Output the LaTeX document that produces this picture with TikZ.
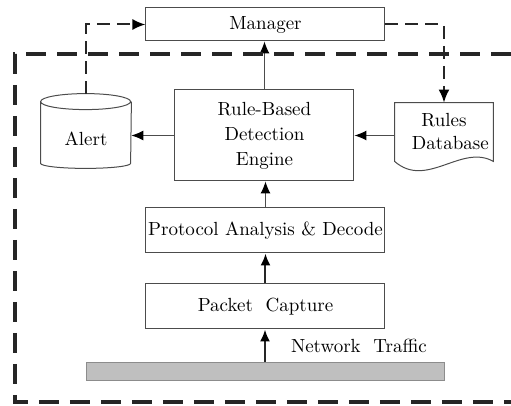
\documentclass[tikz,border=0pt]{standalone}
\usepackage{tikz}
\usetikzlibrary{arrows.meta, positioning}

\begin{document}
\begin{tikzpicture}[x=0.5pt, y=-0.5pt,
    font=\fontsize{9.5}{12.5}\selectfont,
    block/.style={draw=black!70, line width=0.5pt, align=center, inner sep=0pt},
    thinarrow/.style={draw=black!70, line width=0.5pt, -{Latex[length=6pt, width=5pt, black]}},
    thickarrow/.style={draw=black!85, line width=1pt, -{Latex[length=6pt, width=5pt, black]}},
    dashline/.style={draw=black!85, line width=1pt, dash pattern=on 6.5pt off 3.5pt, -{Latex[length=6.5pt, width=5.5pt, black]}},
    frameline/.style={draw=black!85, line width=1.6pt, dash pattern=on 10pt off 5.5pt}]
    \useasboundingbox (0,0) rectangle (511,406);

    % Boxes
    \node[block, minimum width=119.5pt, minimum height=16.5pt] (manager) at (265.5,24.5) {Manager};
    \node[block, minimum width=89.5pt, minimum height=45.5pt] (engine) at (264.5,135.5) {Rule-Based\\Detection\\Engine};
    \node[block, minimum width=119.5pt, minimum height=22.5pt] (protocol) at (265.5,230.5) {Protocol Analysis \& Decode};
    \node[block, minimum width=119.5pt, minimum height=22.5pt] (capture) at (265.5,306.5) {Packet\ \ Capture};
    \node[draw=black!45, fill=black!25, minimum width=179pt, minimum height=9pt, inner sep=0pt] (bar) at (265,371) {};
    \node[right] (trafficlabel) at (284,346) {Network\ \ Traffic};

    % Alert store
    \node[minimum width=45pt, minimum height=37pt, inner sep=0pt] (alert) at (86,131) {};
    \node (alertlabel) at (86,139) {Alert};
    \draw[draw=black!70, line width=0.5pt]
        ([yshift=-4pt]alert.north west) arc[start angle=180, end angle=360, x radius=22.5pt, y radius=4pt]
        arc[start angle=0, end angle=180, x radius=22.5pt, y radius=4pt]
        -- ([yshift=2.5pt]alert.south west)
        arc[start angle=180, end angle=360, x radius=22.5pt, y radius=2.5pt]
        -- ([yshift=-4pt]alert.north east);

    % Rules document
    \node[minimum width=49pt, minimum height=29pt, inner sep=0pt, align=center] (rules) at (444,132) {Rules\\[-1pt]\ \ Database};
    \draw[draw=black!70, line width=0.5pt]
        (rules.north west) -- (rules.south west)
        .. controls ([xshift=16pt, yshift=-14pt]rules.south west) and ([xshift=-16pt, yshift=9pt]rules.south east) .. (rules.south east)
        -- (rules.north east) -- cycle;

    % Data flow
    \draw[thickarrow] (bar.north) -- (bar.north |- capture.south);
    \draw[thickarrow] (capture.north) -- (protocol.south);
    \draw[thinarrow] (protocol.north) -- (protocol.north |- engine.south);
    \draw[thinarrow] (engine.north) -- (engine.north |- manager.south);
    \draw[thinarrow] (engine.west) -- (engine.west -| alert.east);
    \draw[thinarrow] (rules.west |- engine.east) -- (engine.east);

    % Manager links
    \draw[dashline] (alert.north) |- (manager.west);
    \draw[dashline] (manager.east) -| (rules.north);

    % Sensor frame
    \draw[frameline] (511,54) -- (15,54) -- (15,402) -- (511,402);
\end{tikzpicture}
\end{document}
